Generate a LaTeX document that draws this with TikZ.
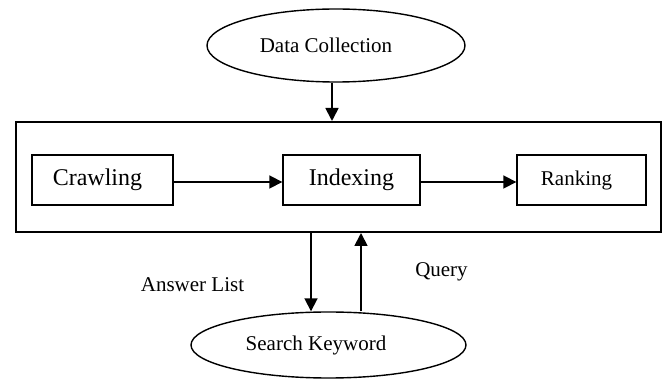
\documentclass[tikz,border=0pt]{standalone}
\usepackage{fontspec}
\setmainfont{Liberation Serif}
\usetikzlibrary{shapes.geometric,arrows.meta,calc}
\begin{document}
\begin{tikzpicture}[x=1pt,y=-1pt,
  arr/.style={line width=1.8pt,-{Triangle[length=13pt,width=13pt]}},
  procbox/.style={draw,line width=1.4pt,minimum width=141pt,minimum height=50pt,inner sep=0pt},
  oval/.style={draw,ellipse,line width=1.4pt,inner sep=0pt},
  bigtxt/.style={font=\fontsize{24}{28}\selectfont},
  smtxt/.style={font=\fontsize{21}{25}\selectfont}]
\useasboundingbox (0,0) rectangle (665,379);
\node[draw,line width=2pt,minimum width=645pt,minimum height=110pt,inner sep=0pt] (outer) at (338.4,177) {};
\node[oval,smtxt,minimum width=258pt,minimum height=73pt] (dc) at (336,45.5) {Data Collection\hspace*{20pt}};
\node[procbox,bigtxt] (crawl) at (102.5,180) {Crawling\hspace*{10pt}};
\node[procbox,bigtxt,minimum width=137pt] (index) at (351.5,180) {Indexing};
\node[procbox,smtxt,minimum width=129pt] (rank) at (581.5,180) {Ranking\hspace*{10pt}};
\node[oval,smtxt,minimum width=275pt,minimum height=66pt] (sk) at (328.5,345) {Search Keyword\hspace*{25pt}};
\node[smtxt,inner sep=0pt] (ans) at (192.5,285) {Answer List};
\node[smtxt,inner sep=0pt] (qry) at (441.5,271.5) {Query};
\draw[arr] ([xshift=-4pt]dc.south) -- ([xshift=-4pt]dc.south |- outer.north);
\draw[arr] (crawl.east |- 0,182) -- (index.west |- 0,182);
\draw[arr] (index.east |- 0,182) -- (rank.west |- 0,182);
\draw[arr] ([xshift=-27.4pt]outer.south) -- ([xshift=-27.4pt]outer.south |- sk.north);
\draw[arr] ([xshift=22.6pt]outer.south |- sk.north) -- ([xshift=22.6pt]outer.south);
\end{tikzpicture}
\end{document}
